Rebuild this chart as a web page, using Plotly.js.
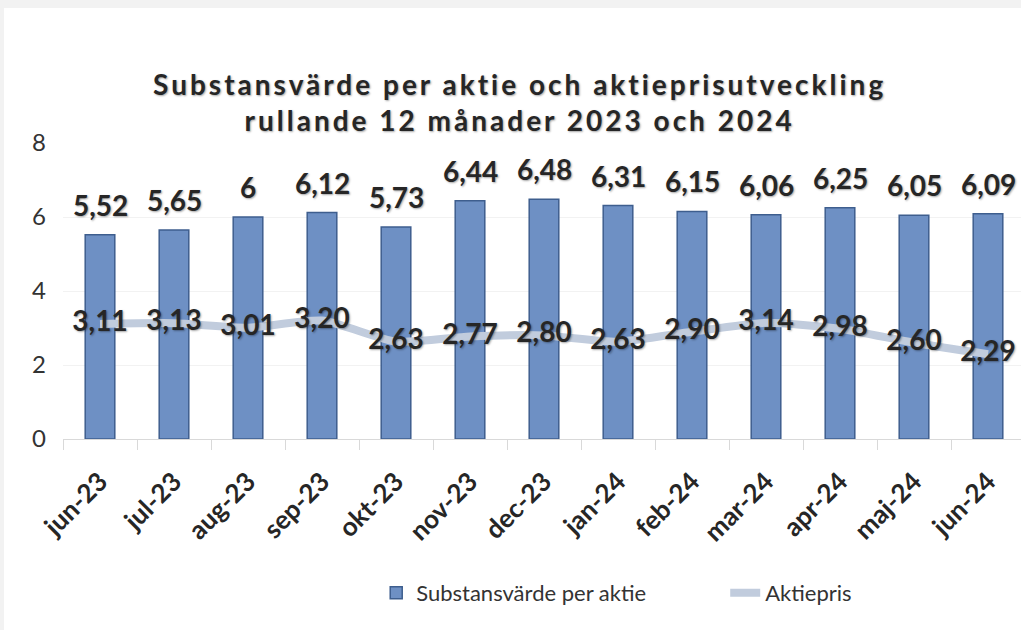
<!DOCTYPE html>
<html>
<head>
<meta charset="utf-8">
<script src="https://cdn.plot.ly/plotly-3.0.1.min.js"></script>
<style>
  html, body { margin:0; padding:0; background:#f2f2f2; width:1021px; height:630px; overflow:hidden; }
  #chart { position:absolute; left:4px; top:8px; width:1017px; height:622px; background:#fff; }
  .gtitle { letter-spacing: 3px; }
</style>
</head>
<body>
<div id="chart"></div>
<script>
const categories = ["jun-23","jul-23","aug-23","sep-23","okt-23","nov-23","dec-23","jan-24","feb-24","mar-24","apr-24","maj-24","jun-24"];
const substansvarde = [5.52, 5.65, 6, 6.12, 5.73, 6.44, 6.48, 6.31, 6.15, 6.06, 6.25, 6.05, 6.09];
const aktiepris = [3.11, 3.13, 3.01, 3.20, 2.63, 2.77, 2.80, 2.63, 2.90, 3.14, 2.98, 2.60, 2.29];
const yTicks = [0, 2, 4, 6, 8];

const FONT = "Lato, 'Open Sans', sans-serif";
const SHADOW = "1px 1px 2px rgba(0,0,0,0.35)";

const barTrace = {
  type: 'bar',
  name: 'Substansvärde per aktie',
  x: categories,
  y: substansvarde,
  width: 0.4,
  marker: { color: '#6E90C4', line: { color: '#3E5E8E', width: 1.5 } },
  hoverinfo: 'skip'
};

const lineTrace = {
  type: 'scatter',
  mode: 'lines+text',
  name: 'Aktiepris',
  x: categories,
  y: aktiepris,
  line: { color: '#C1CCDD', width: 8, shape: 'spline', smoothing: 0.6 },
  text: aktiepris.map(v => v.toFixed(2).replace('.', ',')),
  textposition: 'middle center',
  textfont: { family: FONT, size: 28, color: '#262626', weight: 'bold', shadow: SHADOW },
  cliponaxis: false,
  hoverinfo: 'skip'
};

const barLabels = categories.map((c, i) => ({
  x: c, y: substansvarde[i], xref: 'x', yref: 'y',
  text: String(substansvarde[i]).replace('.', ','),
  showarrow: false, yanchor: 'bottom', yshift: 11,
  font: { family: FONT, size: 28, color: '#262626', weight: 'bold', shadow: SHADOW }
}));

const layout = {
  width: 1017, height: 622,
  paper_bgcolor: '#ffffff', plot_bgcolor: '#ffffff',
  margin: { l: 59, r: 0, t: 135, b: 191, autoexpand: false },
  font: { family: FONT, color: '#333' },
  separators: ', ',
  title: {
    text: 'Substansvärde per aktie och aktieprisutveckling<br>rullande 12 månader 2023 och 2024',
    x: 0.507, xanchor: 'center', xref: 'container',
    y: 0.86, yanchor: 'top', yref: 'container',
    font: { family: FONT, size: 28, color: '#262626', weight: 'bold', shadow: SHADOW }
  },
  xaxis: {
    type: 'category',
    range: [-0.5, 12.446],
    tickangle: -45,
    tickfont: { family: FONT, size: 26, color: '#262626', weight: 'bold' },
    showgrid: false,
    showline: true, linecolor: '#D9D9D9', linewidth: 1,
    ticks: 'outside', tickson: 'boundaries', ticklen: 10, tickcolor: '#D9D9D9',
    ticklabelstandoff: 16,
    fixedrange: true
  },
  yaxis: {
    range: [0, 8],
    tickvals: yTicks,
    ticktext: yTicks.map(String),
    tickfont: { family: FONT, size: 24, color: '#333' },
    showgrid: true, gridcolor: '#F2F2F2', gridwidth: 1,
    zeroline: false, showline: false,
    ticklabelstandoff: 16,
    fixedrange: true
  },
  showlegend: true,
  legend: {
    orientation: 'h',
    xref: 'container', yref: 'container',
    x: 0.366, xanchor: 'left',
    y: (622 - 585) / 622, yanchor: 'middle',
    font: { family: FONT, size: 22, color: '#333' },
    entrywidth: 304, entrywidthmode: 'pixels',
    traceorder: 'normal'
  },
  annotations: barLabels
};

Plotly.newPlot('chart', [barTrace, lineTrace], layout, { displayModeBar: false, staticPlot: true });
</script>
</body>
</html>
